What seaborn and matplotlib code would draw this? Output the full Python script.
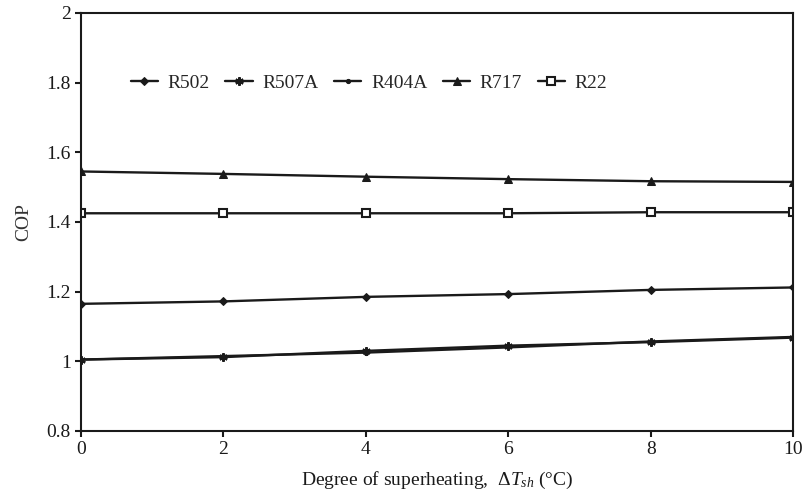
import pandas as pd
import seaborn as sns
import matplotlib.pyplot as plt
from matplotlib.ticker import FormatStrFormatter

# data
superheat = [0, 2, 4, 6, 8, 10]
cop_r502 = [1.165, 1.172, 1.185, 1.193, 1.205, 1.212]
cop_r507a = [1.005, 1.012, 1.030, 1.045, 1.055, 1.068]
cop_r404a = [1.005, 1.015, 1.025, 1.040, 1.057, 1.070]
cop_r717 = [1.545, 1.538, 1.530, 1.523, 1.517, 1.515]
cop_r22 = [1.425, 1.425, 1.425, 1.425, 1.428, 1.428]
refrigerants = ['R502', 'R507A', 'R404A', 'R717', 'R22']

sns.set_theme(style="ticks")
plt.rcParams['font.family'] = ['Liberation Serif', 'DejaVu Serif']
plt.rcParams['mathtext.fontset'] = 'custom'
plt.rcParams['mathtext.rm'] = 'Liberation Serif'
plt.rcParams['mathtext.it'] = 'Liberation Serif:italic'

fig = plt.figure(figsize=(8.07, 4.99), dpi=100)
ax = fig.add_axes([0.1004, 0.1363, 0.8823, 0.8377])

series = [cop_r502, cop_r507a, cop_r404a, cop_r717, cop_r22]
# marker style per refrigerant
styles = [
    dict(marker='D', markersize=4, markerfacecolor='k'),
    dict(marker=(6, 2, 0), markersize=6, markeredgewidth=1.6),
    dict(marker='o', markersize=3, markerfacecolor='k'),
    dict(marker='^', markersize=6, markerfacecolor='k'),
    dict(marker='s', markersize=5.5, markerfacecolor='white', markeredgewidth=1.5),
]
for name, vals, st in zip(refrigerants, series, styles):
    sns.lineplot(x=superheat, y=vals, ax=ax, color='k', linewidth=1.7,
                 markeredgecolor='k', label=name, **st)

ax.set_xlim(0, 10)
ax.set_ylim(0.8, 2.0)
ax.set_xticks(superheat)
ax.set_yticks([0.8, 1.0, 1.2, 1.4, 1.6, 1.8, 2.0])
ax.yaxis.set_major_formatter(FormatStrFormatter('%g'))
ax.tick_params(direction='out', length=4, width=1.5, labelsize=14, colors='k')

for sp in ax.spines.values():
    sp.set_linewidth(1.5)
    sp.set_color('k')
    sp.set_visible(True)

ax.set_xlabel(r'Degree of superheating,  $\Delta T_{sh}$ (°C)', fontsize=14, color='k', labelpad=8)
ax.set_ylabel('COP', fontsize=14, color='#333333', labelpad=10)

ax.legend(loc='center left', bbox_to_anchor=(0.045, 0.833), ncol=5, frameon=False,
          fontsize=14, handlelength=1.4, handletextpad=0.5, columnspacing=0.8)

fig.savefig('out.png', dpi=100)
